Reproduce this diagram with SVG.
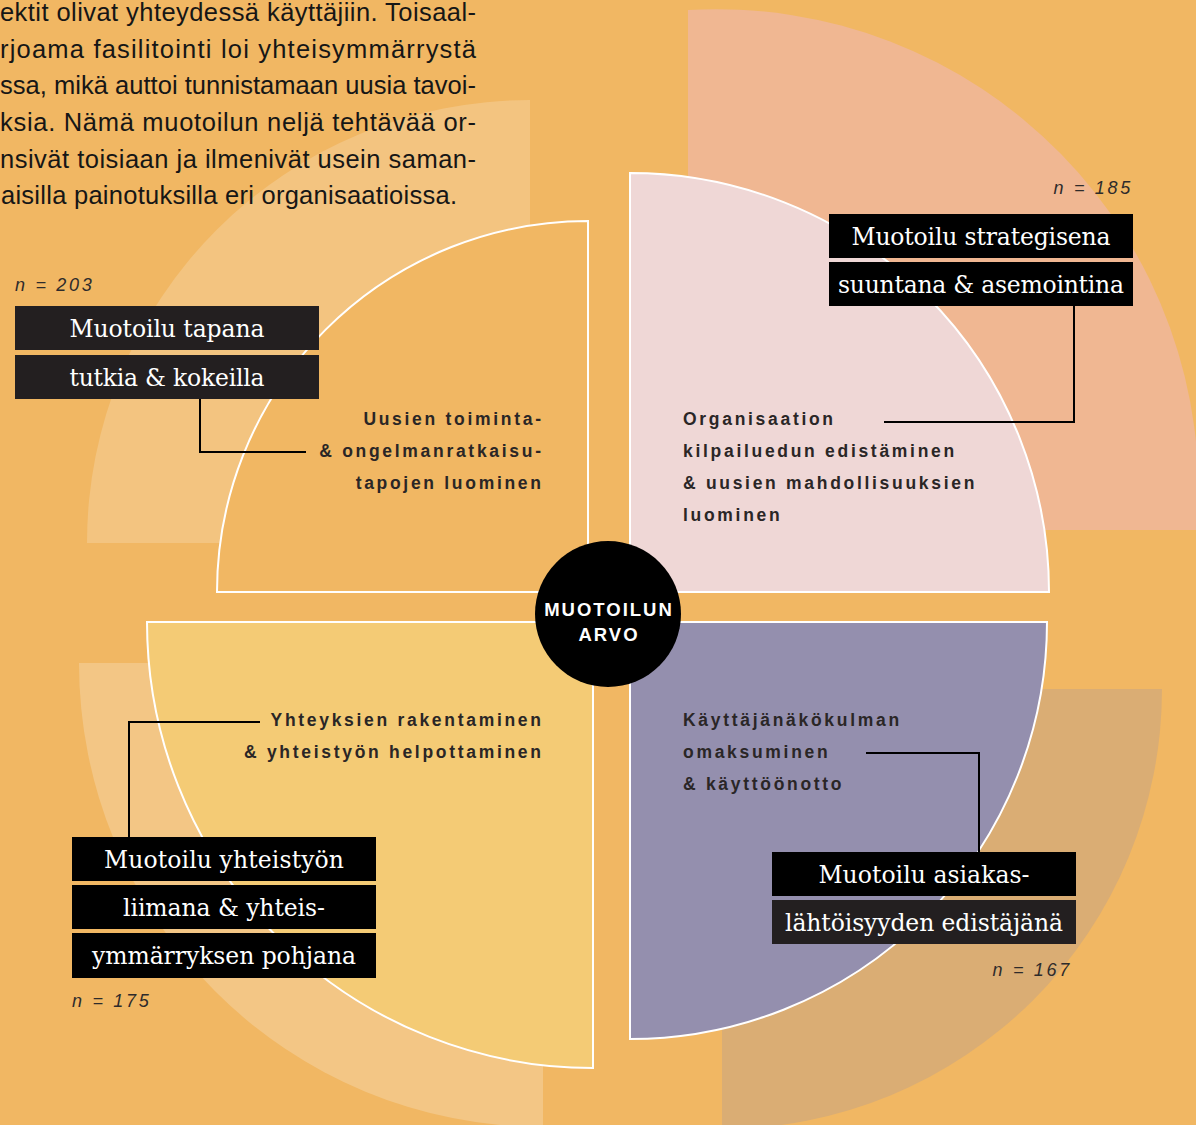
<svg xmlns="http://www.w3.org/2000/svg" width="1196" height="1125" viewBox="0 0 1196 1125">
  <style>
    .body { font-family: "Liberation Sans", Arial, sans-serif; font-size: 25.5px; fill: #161616; }
    .cap { font-family: "Liberation Sans", Arial, sans-serif; font-size: 17.5px; font-weight: bold; letter-spacing: 2.7px; fill: #2a2626; }
    .cap-r { text-anchor: end; }
    .n { font-family: "Liberation Sans", Arial, sans-serif; font-size: 18px; font-style: italic; letter-spacing: 2.7px; fill: #2e2b2b; }
    .tag { font-family: "DejaVu Serif", "Liberation Serif", serif; font-size: 23.5px; fill: #ffffff; text-anchor: middle; }
    .box { fill: #000000; }
    .box-d { fill: #231f20; }
    .quarter { stroke: #ffffff; stroke-width: 2; }
    .link { fill: none; stroke: #000000; stroke-width: 2; }
    .hub-text { font-family: "Liberation Sans", Arial, sans-serif; font-size: 18.5px; font-weight: bold; letter-spacing: 2px; fill: #ffffff; text-anchor: middle; }
  </style>

  <!-- page background -->
  <rect width="1196" height="1125" fill="#f1b763"/>

  <!-- sample-size quarter discs behind the chart -->
  <g id="backdrop">
    <path d="M530,543 H87 A443,443 0 0 1 530,100 Z" fill="#f3c480"/>
    <path d="M688,530 V10 A482,482 0 0 1 1197,530 Z" fill="#f0b792"/>
    <path d="M543,663 H79 A464,464 0 0 0 543,1127 Z" fill="#f3c685"/>
    <path d="M722,689 H1162 A440,440 0 0 1 722,1129 Z" fill="#daad74"/>
  </g>

  <!-- running body text -->
  <g id="body-text" class="body">
    <text x="0" y="21" textLength="476" lengthAdjust="spacing">ektit olivat yhteydessä käyttäjiin. Toisaal-</text>
    <text x="0" y="57.5" textLength="476" lengthAdjust="spacing">rjoama fasilitointi loi yhteisymmärrystä</text>
    <text x="0" y="94" textLength="476" lengthAdjust="spacing">ssa, mikä auttoi tunnistamaan uusia tavoi-</text>
    <text x="0" y="131" textLength="476" lengthAdjust="spacing">ksia. Nämä muotoilun neljä tehtävää or-</text>
    <text x="0" y="167.5" textLength="476" lengthAdjust="spacing">nsivät toisiaan ja ilmenivät usein saman-</text>
    <text x="1" y="204" textLength="456" lengthAdjust="spacing">aisilla painotuksilla eri organisaatioissa.</text>
  </g>

  <!-- four quarters around the hub -->
  <g id="quarter-tl">
    <path class="quarter" d="M588,592 H217 A371,371 0 0 1 588,221 Z" fill="#f1b763"/>
    <text class="cap cap-r" x="543.7" y="425">Uusien toiminta-</text>
    <text class="cap cap-r" x="543.7" y="457">&amp; ongelmanratkaisu-</text>
    <text class="cap cap-r" x="543.7" y="489">tapojen luominen</text>
  </g>
  <g id="quarter-tr">
    <path class="quarter" d="M630,592 V173 A419,419 0 0 1 1049,592 Z" fill="#efd7d6"/>
    <text class="cap" x="683" y="425">Organisaation</text>
    <text class="cap" x="683" y="457">kilpailuedun edistäminen</text>
    <text class="cap" x="683" y="489">&amp; uusien mahdollisuuksien</text>
    <text class="cap" x="683" y="521">luominen</text>
  </g>
  <g id="quarter-bl">
    <path class="quarter" d="M593,622 H147 A446,446 0 0 0 593,1068 Z" fill="#f4cb75"/>
    <text class="cap cap-r" x="543.7" y="726">Yhteyksien rakentaminen</text>
    <text class="cap cap-r" x="543.7" y="758">&amp; yhteistyön helpottaminen</text>
  </g>
  <g id="quarter-br">
    <path class="quarter" d="M630,622 H1047 A417,417 0 0 1 630,1039 Z" fill="#948fae"/>
    <text class="cap" x="683" y="726">Käyttäjänäkökulman</text>
    <text class="cap" x="683" y="758">omaksuminen</text>
    <text class="cap" x="683" y="790">&amp; käyttöönotto</text>
  </g>

  <!-- leader lines from tags to quarter captions -->
  <g id="connectors">
    <polyline class="link" points="200,399 200,452 306,452"/>
    <polyline class="link" points="1074,306 1074,422 884,422"/>
    <polyline class="link" points="129,837 129,722 260,722"/>
    <polyline class="link" points="866,753 979,753 979,852"/>
  </g>

  <!-- tag blocks with sample sizes -->
  <g id="tag-tl">
    <text class="n" x="15" y="290.5">n = 203</text>
    <rect class="box-d" x="15" y="306" width="304" height="44"/>
    <rect class="box-d" x="15" y="355" width="304" height="44"/>
    <text class="tag" x="167" y="337" textLength="195" lengthAdjust="spacing">Muotoilu tapana</text>
    <text class="tag" x="167" y="386" textLength="195" lengthAdjust="spacing">tutkia &amp; kokeilla</text>
  </g>
  <g id="tag-tr">
    <text class="n" x="1133" y="194" text-anchor="end">n = 185</text>
    <rect class="box" x="829" y="214" width="304" height="44"/>
    <rect class="box" x="829" y="262" width="304" height="44"/>
    <text class="tag" x="981" y="245" textLength="259" lengthAdjust="spacing">Muotoilu strategisena</text>
    <text class="tag" x="981" y="293" textLength="286" lengthAdjust="spacing">suuntana &amp; asemointina</text>
  </g>
  <g id="tag-bl">
    <rect class="box" x="72" y="837" width="304" height="44"/>
    <rect class="box" x="72" y="885" width="304" height="44"/>
    <rect class="box" x="72" y="933" width="304" height="45"/>
    <text class="tag" x="224" y="868" textLength="240" lengthAdjust="spacing">Muotoilu yhteistyön</text>
    <text class="tag" x="224" y="916" textLength="202" lengthAdjust="spacing">liimana &amp; yhteis-</text>
    <text class="tag" x="224" y="964" textLength="264" lengthAdjust="spacing">ymmärryksen pohjana</text>
    <text class="n" x="72" y="1007">n = 175</text>
  </g>
  <g id="tag-br">
    <rect class="box" x="772" y="852" width="304" height="44"/>
    <rect class="box-d" x="772" y="900" width="304" height="44"/>
    <text class="tag" x="924" y="883" textLength="211" lengthAdjust="spacing">Muotoilu asiakas-</text>
    <text class="tag" x="924" y="931" textLength="278" lengthAdjust="spacing">lähtöisyyden edistäjänä</text>
    <text class="n" x="1072" y="976" text-anchor="end">n = 167</text>
  </g>

  <!-- central hub -->
  <g id="hub">
    <circle cx="608" cy="614" r="73" fill="#000000"/>
    <text class="hub-text" x="609" y="616">MUOTOILUN</text>
    <text class="hub-text" x="609" y="640.5">ARVO</text>
  </g>
</svg>
